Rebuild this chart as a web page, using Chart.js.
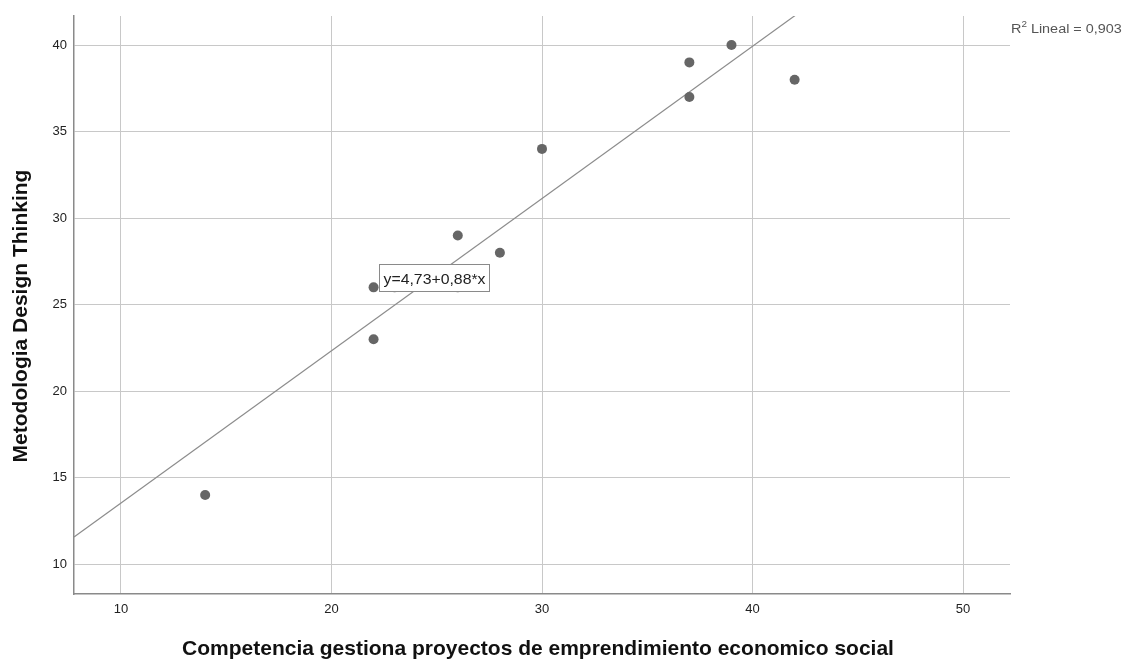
<!DOCTYPE html>
<html>
<head>
<meta charset="utf-8">
<script src="https://cdn.jsdelivr.net/npm/chart.js@4.4.1/dist/chart.umd.min.js"></script>
<style>
  html, body { margin: 0; padding: 0; background: #fff; }
  #wrap { width: 1125px; height: 659px; position: relative; }
</style>
</head>
<body>
<div id="wrap"><canvas id="c" width="1125" height="659"></canvas></div>
<script>
// Observations: competencia (x) vs. metodologia (y)
const competencia = [14, 22, 22, 23, 26, 26, 28, 30, 37, 37, 39, 42];
const metodologia = [14, 26, 23, 26, 29, 26, 28, 34, 39, 37, 40, 38];

// Linear fit coefficients and fit quality
const fitIntercept = 4.73;
const fitSlope = 0.88;
const rSquared = 0.903;

// Axis ranges and tick steps
const xRange = [7.77, 52.23];
const yRange = [8.28, 41.68];
const xStep = 10;
const yStep = 5;

const xTitle = 'Competencia gestiona proyectos de emprendimiento economico social';
const yTitle = 'Metodologia Design Thinking';

const fmt = (v, d) => v.toFixed(d).replace('.', ',');
const fitLabel = 'y=' + fmt(fitIntercept, 2) + '+' + fmt(fitSlope, 2) + '*x';

const points = competencia.map((x, i) => ({ x: x, y: metodologia[i] }));
const fitLine = xRange.map(x => ({ x: x, y: fitIntercept + fitSlope * x }));

const FONT = '"Liberation Sans", Arial, sans-serif';

// Text with optional horizontal stretch, centred or left-aligned
function putText(ctx, text, x, y, font, stretch, align) {
  ctx.save();
  ctx.font = font;
  ctx.textAlign = 'left';
  const w = ctx.measureText(text).width * stretch;
  const x0 = align === 'center' ? x - w / 2 : x;
  ctx.translate(x0, y);
  ctx.scale(stretch, 1);
  ctx.fillText(text, 0, 0);
  ctx.restore();
  return w;
}

// Axis titles, the fit equation box and the R² note
const notes = {
  id: 'notes',
  afterDatasetsDraw(chart) {
    const { ctx, scales, chartArea } = chart;
    ctx.save();
    ctx.textBaseline = 'alphabetic';

    // equation box anchored in data space
    const bx = Math.round(scales.x.getPixelForValue(22.25)) + 0.5;
    const by = Math.round(scales.y.getPixelForValue(27.35)) + 0.5;
    const bw = 110, bh = 27;
    ctx.fillStyle = '#fff';
    ctx.fillRect(bx, by, bw, bh);
    ctx.strokeStyle = '#8a8a8a';
    ctx.lineWidth = 1;
    ctx.strokeRect(bx, by, bw, bh);
    ctx.fillStyle = '#222';
    putText(ctx, fitLabel, bx + 4, by + 19, '14px ' + FONT, 1.13, 'left');

    // R² note to the right of the plot
    const rx = chartArea.right + 1;
    const ry = 33;
    ctx.fillStyle = '#555';
    let w = putText(ctx, 'R', rx, ry, '12px ' + FONT, 1.2, 'left');
    w += putText(ctx, '2', rx + w, ry - 6, '9px ' + FONT, 1.1, 'left');
    putText(ctx, ' Lineal = ' + fmt(rSquared, 3), rx + w, ry, '12px ' + FONT, 1.2, 'left');

    // axis titles
    ctx.fillStyle = '#111';
    const titleFont = 'bold 21px ' + FONT;
    putText(ctx, xTitle, 538, 655, titleFont, 1, 'center');
    ctx.save();
    ctx.translate(27, 316);
    ctx.rotate(-Math.PI / 2);
    putText(ctx, yTitle, 0, 0, titleFont, 1, 'center');
    ctx.restore();

    ctx.restore();
  }
};

new Chart(document.getElementById('c'), {
  type: 'scatter',
  data: {
    datasets: [
      {
        data: points,
        backgroundColor: '#666666',
        borderWidth: 0,
        pointRadius: 5,
        pointHoverRadius: 5,
        order: 1
      },
      {
        type: 'line',
        data: fitLine,
        borderColor: '#8c8c8c',
        borderWidth: 1.2,
        pointRadius: 0,
        fill: false,
        order: 2
      }
    ]
  },
  options: {
    responsive: false,
    animation: false,
    events: [],
    layout: { padding: { top: 16, right: 115, left: 0, bottom: 0 } },
    plugins: { legend: { display: false }, tooltip: { enabled: false } },
    scales: {
      x: {
        type: 'linear',
        min: xRange[0],
        max: xRange[1],
        ticks: {
          stepSize: xStep,
          includeBounds: false,
          color: '#222',
          font: { family: FONT, size: 13 },
          padding: 8,
          maxRotation: 0
        },
        grid: { color: '#c8c8c8', lineWidth: 1, drawTicks: false },
        border: { color: '#8a8a8a', width: 1.5 },
        afterFit(scale) { scale.height = 65; }
      },
      y: {
        type: 'linear',
        min: yRange[0],
        max: yRange[1],
        ticks: {
          stepSize: yStep,
          includeBounds: false,
          color: '#222',
          font: { family: FONT, size: 13 },
          padding: 7
        },
        grid: { color: '#c8c8c8', lineWidth: 1, drawTicks: false },
        border: { color: '#8a8a8a', width: 1.5 },
        afterFit(scale) { scale.width = 74; }
      }
    }
  },
  plugins: [notes]
});
</script>
</body>
</html>
